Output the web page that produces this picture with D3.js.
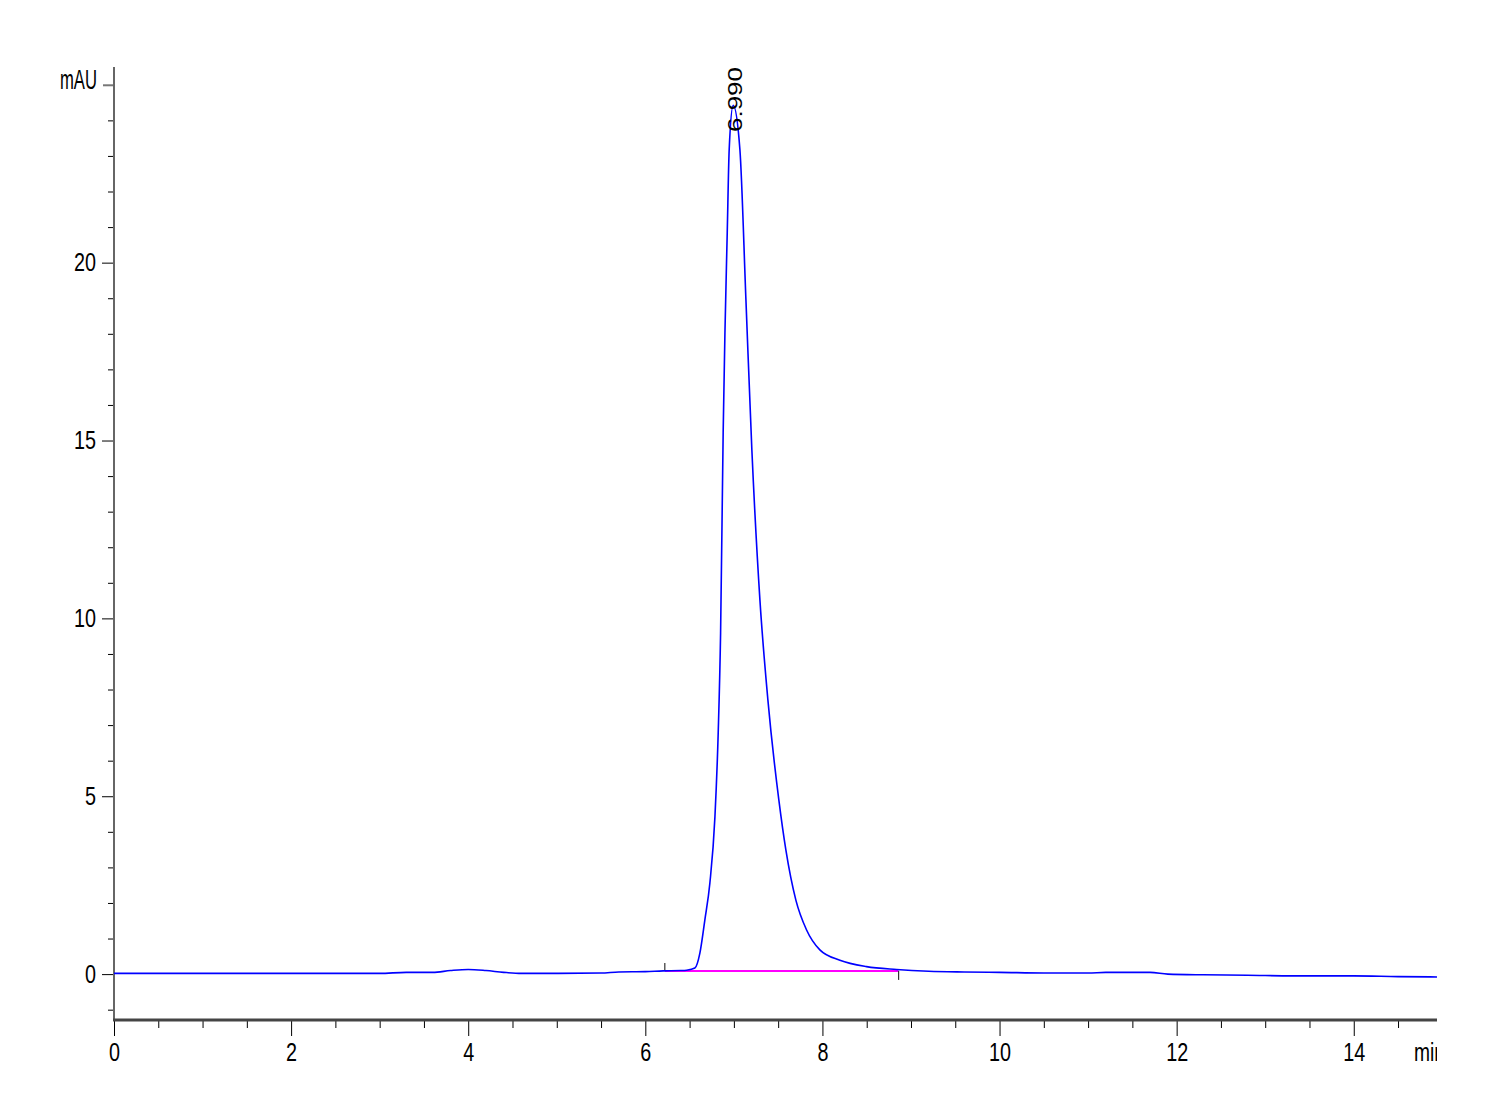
<!DOCTYPE html>
<html>
<head>
<meta charset="utf-8">
<script src="https://cdn.jsdelivr.net/npm/d3@7"></script>
<style>
  html, body { margin: 0; padding: 0; background: #fff; }
  svg { display: block; }
</style>
</head>
<body>
<svg id="chart" width="1500" height="1100"></svg>
<script>
// ---- data ----
const timeMin = [0, 0.5, 1.0, 1.5, 2.0, 2.5, 3.0, 3.3, 3.6, 3.8, 4.0, 4.2, 4.4, 4.6, 5.0, 5.5, 5.7, 6.0, 6.2, 6.4,
  6.466, 6.56, 6.616, 6.672, 6.729, 6.786, 6.823, 6.850, 6.879, 6.899, 6.925, 6.947, 6.992,
  7.068, 7.136, 7.203, 7.294, 7.384, 7.508, 7.587, 7.700, 7.821, 7.971, 8.197, 8.498, 8.837,
  9.2, 9.6, 10.0, 10.5, 11.0, 11.2, 11.7, 11.9, 12.3, 12.8, 13.3, 14.0, 14.5, 14.94];
const signalMAU = [0.02, 0.02, 0.02, 0.02, 0.02, 0.02, 0.02, 0.05, 0.05, 0.10, 0.13, 0.10, 0.05, 0.02, 0.02, 0.03, 0.06, 0.07, 0.09, 0.10,
  0.11, 0.17, 0.59, 1.52, 2.56, 4.42, 6.78, 9.59, 15.22, 18.03, 20.84, 23.18, 24.42,
  23.18, 18.96, 14.74, 10.52, 7.71, 4.89, 3.49, 2.08, 1.24, 0.68, 0.39, 0.21, 0.13,
  0.08, 0.06, 0.05, 0.03, 0.03, 0.05, 0.05, 0.00, -0.02, -0.03, -0.05, -0.05, -0.07, -0.08];
const peakTimes = [6.990];
const peakLabels = ["6.990"];
const integBaseTime = [6.22, 8.86];
const integBaseValue = [0.09, 0.09];
const xMajorTicks = [0, 2, 4, 6, 8, 10, 12, 14];
const xMinorTicks = d3.range(0.5, 14.94, 0.5).filter(v => v % 2 !== 0);
const yMajorTicks = [0, 5, 10, 15, 20];
const yMinorTicks = d3.range(-1, 26, 1).filter(v => v % 5 !== 0);
const yUnitTick = [25];
const xUnit = "min";
const yUnit = "mAU";

// ---- layout ----
const svg = d3.select("#chart");
const x = d3.scaleLinear().domain([0, 14.94]).range([114, 1437]);
const y = d3.scaleLinear().domain([-1.29, 25.5]).range([1020, 67]);

const fontFam = '"Liberation Sans", Arial, sans-serif';
const narrowText = sel => sel
  .attr("font-family", fontFam).attr("font-size", 25).attr("fill", "#000")
  .attr("textLength", function() { return this.textContent.length * 11; })
  .attr("lengthAdjust", "spacingAndGlyphs");

svg.append("clipPath").attr("id", "plotclip")
  .append("rect").attr("x", 114).attr("y", 40).attr("width", 1437 - 114).attr("height", 1020 - 40);
svg.append("clipPath").attr("id", "unitclip")
  .append("rect").attr("x", 1380).attr("y", 1030).attr("width", 1437 - 1380).attr("height", 50);

// ---- y axis ----
const gy = svg.append("g").attr("transform", `translate(${x(0)},0)`);
gy.append("g").call(d3.axisLeft(y).tickValues(yMinorTicks).tickSize(6).tickFormat(""))
  .call(g => g.select(".domain").remove());
gy.append("g").call(d3.axisLeft(y).tickValues(yUnitTick).tickSize(11).tickFormat(""))
  .call(g => g.select(".domain").remove())
  .call(g => g.selectAll("line").attr("stroke", "#777").attr("stroke-width", 2));
gy.append("g").call(d3.axisLeft(y).tickValues(yMajorTicks).tickSize(12).tickPadding(6).tickFormat(d3.format("d")))
  .call(g => g.select(".domain").remove())
  .call(g => g.selectAll("text").call(narrowText));
gy.append("line").attr("x1", 0).attr("x2", 0).attr("y1", y.range()[1]).attr("y2", y.range()[0])
  .attr("stroke", "#666").attr("stroke-width", 2);

svg.append("text").attr("x", 60).attr("y", 89)
  .attr("font-family", fontFam).attr("font-size", 27)
  .attr("textLength", 37).attr("lengthAdjust", "spacingAndGlyphs")
  .attr("fill", "#000").text(yUnit);

// ---- x axis ----
const gx = svg.append("g").attr("transform", `translate(0,${y(-1.29)})`);
gx.append("g").call(d3.axisBottom(x).tickValues(xMinorTicks).tickSize(8).tickFormat(""))
  .call(g => g.select(".domain").remove());
gx.append("g").call(d3.axisBottom(x).tickValues(xMajorTicks).tickSize(16).tickPadding(7).tickFormat(d3.format("d")))
  .call(g => g.select(".domain").remove())
  .call(g => g.selectAll("text").call(narrowText));
gx.append("line").attr("x1", x.range()[0] - 1).attr("x2", x.range()[1]).attr("y1", 0).attr("y2", 0)
  .attr("stroke", "#444").attr("stroke-width", 3);

svg.append("g").attr("clip-path", "url(#unitclip)")
  .append("text").attr("x", 1414).attr("y", 1061)
  .attr("font-family", fontFam).attr("font-size", 26)
  .attr("textLength", 31).attr("lengthAdjust", "spacingAndGlyphs")
  .attr("fill", "#000").text(xUnit);

// ---- integration baseline ----
const plot = svg.append("g").attr("clip-path", "url(#plotclip)");
const baseData = integBaseTime.map((t, i) => [t, integBaseValue[i]]);
plot.append("path").datum(baseData)
  .attr("d", d3.line().x(d => x(d[0])).y(d => y(d[1])))
  .attr("fill", "none").attr("stroke", "#ff00ff").attr("stroke-width", 2);
plot.append("line").attr("x1", x(integBaseTime[0])).attr("x2", x(integBaseTime[0]))
  .attr("y1", y(integBaseValue[0]) - 8).attr("y2", y(integBaseValue[0]))
  .attr("stroke", "#333").attr("stroke-width", 1.2);
plot.append("line").attr("x1", x(integBaseTime[1])).attr("x2", x(integBaseTime[1]))
  .attr("y1", y(integBaseValue[1])).attr("y2", y(integBaseValue[1]) + 9)
  .attr("stroke", "#333").attr("stroke-width", 1.2);

// ---- signal trace ----
const trace = timeMin.map((t, i) => [t, signalMAU[i]]);
plot.append("path").datum(trace)
  .attr("d", d3.line().x(d => x(d[0])).y(d => y(d[1])).curve(d3.curveMonotoneX))
  .attr("fill", "none").attr("stroke", "#0000ff").attr("stroke-width", 1.6);

// ---- peak label ----
peakTimes.forEach((t, i) => {
  const px = x(t) + 9, py = 132;
  svg.append("text")
    .attr("transform", `translate(${px},${py}) rotate(-90)`)
    .attr("font-family", fontFam)
    .attr("font-size", 21)
    .attr("textLength", 65).attr("lengthAdjust", "spacingAndGlyphs")
    .attr("fill", "#000").text(peakLabels[i]);
});
</script>
</body>
</html>
